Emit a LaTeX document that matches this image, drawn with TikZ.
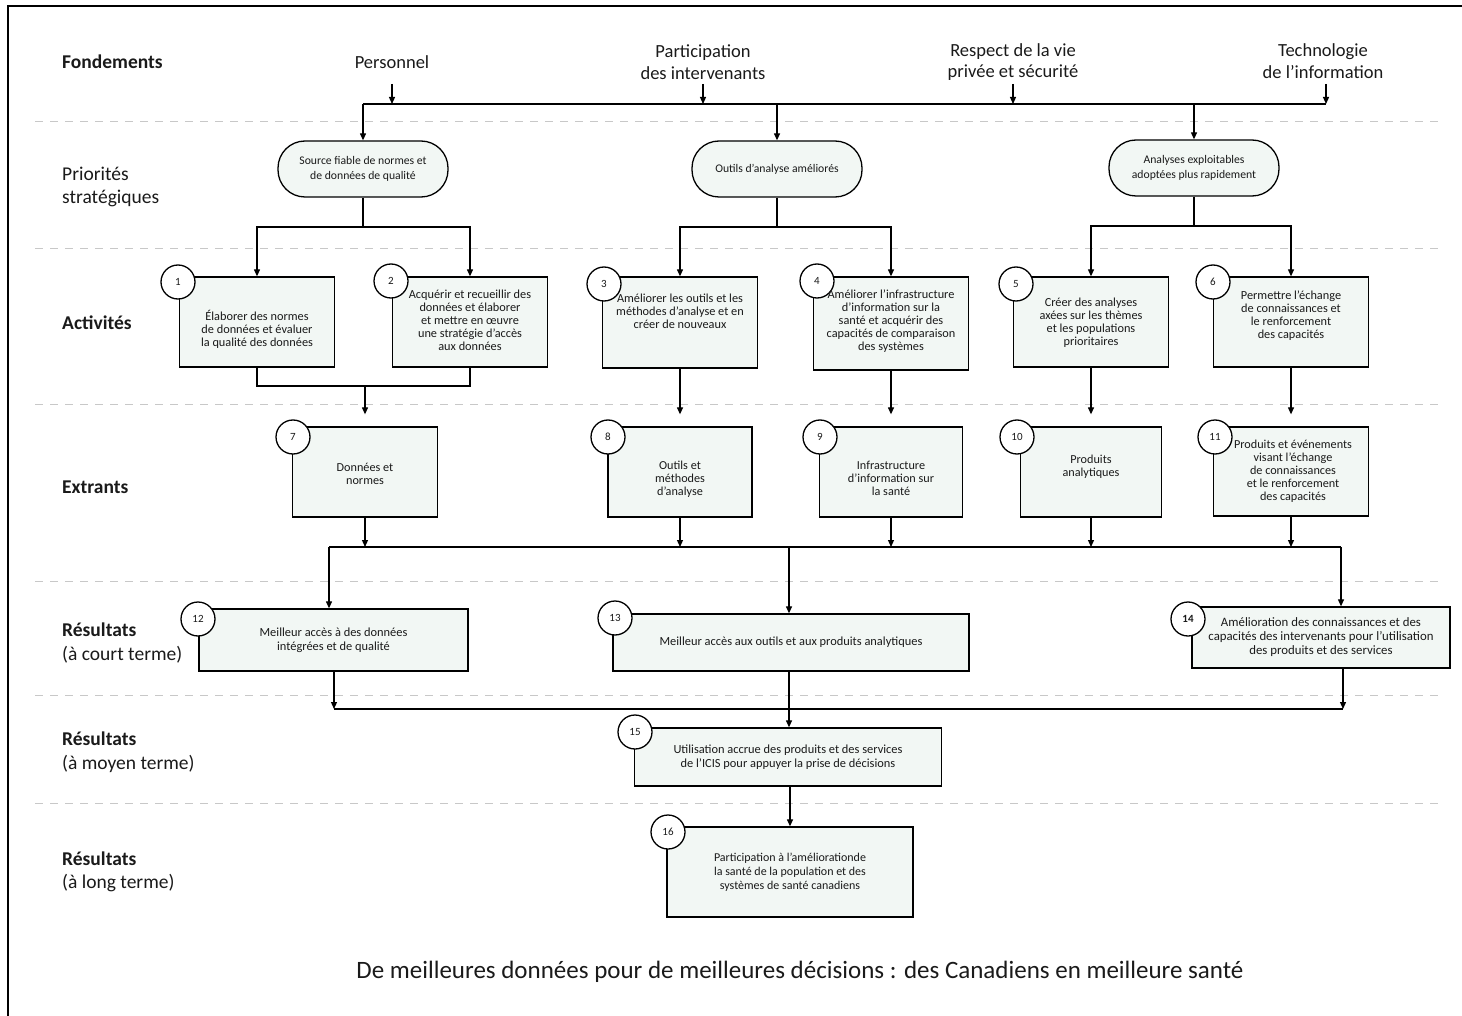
\documentclass[tikz,border=0pt]{standalone}
\usepackage{fontspec}
\setmainfont{Carlito}
\usetikzlibrary{arrows.meta,calc}

\definecolor{boxfill}{HTML}{F2F7F4}
\definecolor{dashgray}{HTML}{C8C8C8}
\definecolor{txt}{HTML}{1A1A1A}

\tikzset{
  conn/.style={line width=1.2pt, draw=black},
  arr/.style={conn, -{Triangle[length=7pt,width=6pt]}},
  prio/.style={draw, line width=1.3pt, fill=boxfill, rounded corners=27pt,
    minimum width=170pt, minimum height=56pt, align=center, text=txt,
    font=\fontsize{11.7}{14.3}\selectfont, inner sep=0pt},
  bx/.style={draw, line width=1.3pt, fill=boxfill, inner sep=0pt},
  acttext/.style={align=center, text=txt, inner sep=0pt, font=\fontsize{12.3}{13}\selectfont},
  outtext/.style={align=center, text=txt, inner sep=0pt, font=\fontsize{12.2}{13}\selectfont},
  restext/.style={align=center, text=txt, font=\fontsize{12.4}{14}\selectfont},
  numc/.style={draw, circle, line width=1.3pt, fill=white, minimum size=34pt,
    inner sep=0pt, text=txt, font=\fontsize{11}{13}\selectfont},
  sep/.style={draw=dashgray, line width=1pt, dash pattern=on 8pt off 7pt},
  lbl/.style={anchor=west, align=left, text=txt, font=\fontsize{19.5}{23.5}\selectfont, inner sep=0pt},
  fond/.style={align=center, text=txt, font=\fontsize{18.5}{21.5}\selectfont, inner sep=0pt},
}

\begin{document}
\begin{tikzpicture}[x=1pt,y=-1pt]
\useasboundingbox (0,0) rectangle (1462,1016);
\draw[line width=1.5pt] (8,1016) -- (8,6) -- (1462,6);

% separators
\foreach \yy in {122,249,404,581,695,803} \draw[sep] (35,\yy) -- (1442,\yy);

% left labels
\node[lbl] (L1) at (62,62) {\textbf{Fondements}};
\node[lbl] (L2) at (62,187) {Priorités\\stratégiques};
\node[lbl] (L3) at (62,323) {\textbf{Activités}};
\node[lbl] (L4) at (62,487) {\textbf{Extrants}};
\node[lbl] (L5) at (62,643) {\textbf{Résultats}\\(à court terme)};
\node[lbl] (L6) at (62,752) {\textbf{Résultats}\\(à moyen terme)};
\node[lbl] (L7) at (62,872) {\textbf{Résultats}\\(à long terme)};

% foundations
\node[fond] (f1) at (392,62) {Personnel};
\node[fond] (f2) at (703,62) {Participation\\des intervenants};
\node[fond] (f3) at (1013,62) {Respect de la vie\\privée et sécurité};
\node[fond] (f4) at (1323,61) {Technologie\\de l’information};

\coordinate (fa1) at (392,84); \coordinate (fa2) at (703,84);
\coordinate (fa3) at (1013,84); \coordinate (fa4) at (1326,84);
\coordinate (hL) at (363,104); \coordinate (hR) at (1326,104);
\coordinate (h2) at (777,104); \coordinate (h3) at (1194,104);
\draw[conn] (hL) -- (hR);
\foreach \i in {1,2,3,4} \draw[arr] (fa\i) -- (fa\i |- hL);

% priorities
\node[prio] (p1) at (363,169) {Source fiable de normes et\\de données de qualité};
\node[prio] (p2) at (777,169) {Outils d’analyse améliorés};
\node[prio] (p3) at (1194,168) {Analyses exploitables\\adoptées plus rapidement};
\draw[arr] (hL) -- (p1.north);
\draw[arr] (h2) -- (p2.north);
\draw[arr] (h3) -- (p3.north);

% activities boxes
\node[bx, minimum width=155pt, minimum height=90pt] (a1) at (257,322) {};
\node[bx, minimum width=155pt, minimum height=90pt] (a2) at (470,322) {};
\node[bx, minimum width=155pt, minimum height=91pt] (a3) at (680,322.5) {};
\node[bx, minimum width=155pt, minimum height=93pt] (a4) at (891,323.5) {};
\node[bx, minimum width=155pt, minimum height=90pt] (a5) at (1091,322) {};
\node[bx, minimum width=155pt, minimum height=90pt] (a6) at (1291,322) {};

\node[numc] (n1) at (178,282) {1};
\node[numc] (n2) at (391,281) {2};
\node[numc] (n3) at (604,284) {3};
\node[numc] (n4) at (817,281) {4};
\node[numc] (n5) at (1016,284) {5};
\node[numc] (n6) at (1213,282) {6};

\node[acttext] (a1t) at (257,329) {Élaborer des normes\\de données et évaluer\\la qualité des données};
\node[acttext] (a2t) at (470,320) {Acquérir et recueillir des\\données et élaborer\\et mettre en œuvre\\une stratégie d’accès\\aux données};
\node[acttext] (a3t) at (680,311) {Améliorer les outils et les\\méthodes d’analyse et en\\créer de nouveaux};
\node[acttext] (a4t) at (891,321) {Améliorer l’infrastructure\\d’information sur la\\santé et acquérir des\\capacités de comparaison\\des systèmes};
\node[acttext] (a5t) at (1091,322.5) {Créer des analyses\\axées sur les thèmes\\et les populations\\prioritaires};
\node[acttext] (a6t) at (1291,316) {Permettre l’échange\\de connaissances et\\le renforcement\\des capacités};

% priority -> activities
\coordinate (s1) at (363,227);
\coordinate (s2) at (777,227);
\coordinate (s3) at (1194,226);
\draw[conn] (p1.south) -- (s1);
\draw[conn] (p2.south) -- (s2);
\draw[conn] (p3.south) -- (s3);
\draw[arr] (s1) -| (a1.north);
\draw[arr] (s1) -| (a2.north);
\draw[arr] (s2) -| (a3.north);
\draw[arr] (s2) -| (a4.north);
\draw[arr] (s3) -| (a5.north);
\draw[arr] (s3) -| (a6.north);

% outputs
\node[bx, minimum width=145pt, minimum height=90pt] (o7) at (365,472) {};
\node[bx, minimum width=144pt, minimum height=90pt] (o8) at (680,472) {};
\node[bx, minimum width=143pt, minimum height=90pt] (o9) at (891,472) {};
\node[bx, minimum width=141pt, minimum height=90pt] (o10) at (1091,472) {};
\node[bx, minimum width=155pt, minimum height=89pt] (o11) at (1291,471.5) {};

\node[numc] (n7) at (293,437) {7};
\node[numc] (n8) at (608,437) {8};
\node[numc] (n9) at (820,437) {9};
\node[numc] (n10) at (1017,437) {10};
\node[numc] (n11) at (1215,437) {11};

\node[outtext] (o7t) at (365,474) {Données et\\normes};
\node[outtext] (o8t) at (680,479) {Outils et\\méthodes\\d’analyse};
\node[outtext] (o9t) at (891,478) {Infrastructure\\d’information sur\\la santé};
\node[outtext] (o10t) at (1091,467) {Produits\\analytiques};
\node[outtext] (o11t) at (1293,471) {Produits et événements\\visant l’échange\\de connaissances\\et le renforcement\\des capacités};

% activities -> outputs
\coordinate (m1) at (365,386);
\draw[conn] (a1.south) |- (a2.south |- m1) -- (a2.south);
\draw[arr, shorten >=12pt] (m1) -- (o7.north);
\draw[arr, shorten >=12pt] (a3.south) -- (o8.north);
\draw[arr, shorten >=12pt] (a4.south) -- (o9.north);
\draw[arr, shorten >=12pt] (a5.south) -- (o10.north);
\draw[arr, shorten >=12pt] (a6.south) -- (o11.north);

% outputs -> bus
\coordinate (b1) at (329,547); \coordinate (b2) at (1341,547);
\coordinate (b3) at (789,547);
\draw[conn] (b1) -- (b2);
\foreach \o in {o7,o8,o9,o10,o11} \draw[arr] (\o.south) -- (\o.south |- b1);

% short-term results
\node[bx, minimum width=269pt, minimum height=62pt, restext] (r12) at (333.5,640) {Meilleur accès à des données\\intégrées et de qualité};
\node[bx, minimum width=356pt, minimum height=57pt, restext] (r13) at (791,642.5) {Meilleur accès aux outils et aux produits analytiques};
\node[bx, minimum width=258pt, minimum height=61pt, restext, font=\fontsize{12.8}{14}\selectfont] (r14) at (1321,637.5) {Amélioration des connaissances et des\\capacités des intervenants pour l’utilisation\\des produits et des services};
\node[numc] (n12) at (198,619) {12};
\node[numc] (n13) at (615,618) {13};
\node[numc] (n14) at (1188,619) {\textbf{14}};

\draw[arr] (b1) -- (b1 |- r12.north);
\draw[arr] (b3) -- (b3 |- r13.north);
\draw[arr] (b2) -- (b2 |- r14.north);

% medium term
\coordinate (c1) at (334,709); \coordinate (c2) at (1343,709);
\draw[conn] (c1) -- (c2);
\draw[arr] (c1 |- r12.south) -- (c1);
\draw[arr] (c2 |- r14.south) -- (c2);

\node[bx, minimum width=307pt, minimum height=58pt, restext] (r15) at (788,757) {Utilisation accrue des produits et des services\\de l’ICIS pour appuyer la prise de décisions};
\node[numc] (n15) at (635,732) {15};
\draw[arr] (b3 |- r13.south) -- (b3 |- r15.north);

% long term
\node[bx, minimum width=246pt, minimum height=90pt, restext, font=\fontsize{12}{14}\selectfont] (r16) at (790,872) {Participation à l’améliorationde\\la santé de la population et des\\systèmes de santé canadiens};
\node[numc] (n16) at (668,832) {16};
\draw[arr] (r15.south -| r16.north) -- (r16.north);

% slogan
\node[text=txt, font=\fontsize{25}{29}\selectfont, inner sep=0pt] (slogan) at (800,972) {De meilleures données pour de meilleures décisions : des Canadiens en meilleure santé};
\end{tikzpicture}
\end{document}
